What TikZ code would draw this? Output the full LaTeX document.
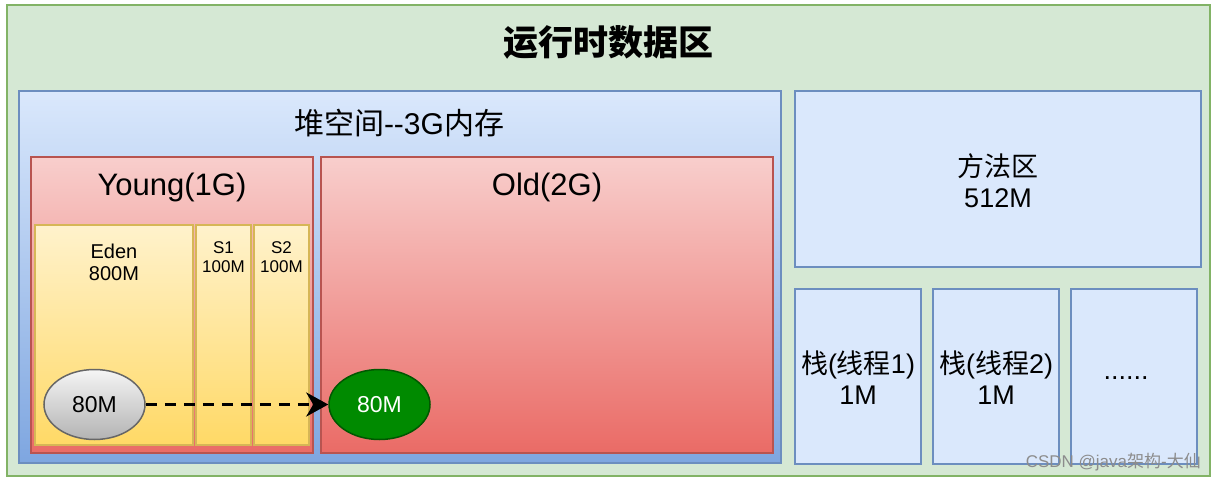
\documentclass[tikz,border=0pt]{standalone}
\usepackage{fontspec}
\setmainfont{Liberation Sans}
\newfontfamily\cjk{Noto Sans CJK SC}
\usetikzlibrary{arrows.meta,shapes.geometric}
\definecolor{gfill}{HTML}{D5E8D4}
\definecolor{gdraw}{HTML}{82B366}
\definecolor{btop}{HTML}{DAE8FC}
\definecolor{bbot}{HTML}{7EA6E0}
\definecolor{bdraw}{HTML}{6C8EBF}
\definecolor{rtop}{HTML}{F8CECC}
\definecolor{rbot}{HTML}{EA6B66}
\definecolor{rdraw}{HTML}{B85450}
\definecolor{ytop}{HTML}{FFF2CC}
\definecolor{ybot}{HTML}{FFD966}
\definecolor{ydraw}{HTML}{D6B656}
\definecolor{stop}{HTML}{F5F5F5}
\definecolor{sbot}{HTML}{B3B3B3}
\definecolor{sdraw}{HTML}{666666}
\definecolor{grfill}{HTML}{008A00}
\definecolor{grdraw}{HTML}{005700}
\tikzset{
  box/.style={rectangle, inner sep=0pt, outer sep=0pt, anchor=north west, line width=1.5pt},
  outerbox/.style={box, fill=gfill, draw=gdraw, line width=2pt},
  heapbox/.style={box, top color=btop, bottom color=bbot, draw=bdraw},
  redbox/.style={box, top color=rtop, bottom color=rbot, draw=rdraw},
  yelbox/.style={box, top color=ytop, bottom color=ybot, draw=ydraw},
  bluebox/.style={box, fill=btop, draw=bdraw},
  txt/.style={inner sep=0pt, align=center},
  obj/.style={ellipse, inner sep=0pt, minimum width=101pt, minimum height=70pt, line width=1.5pt},
}
\begin{document}
\begin{tikzpicture}[x=1pt,y=-1pt]
\useasboundingbox[fill=white] (0,0) rectangle (1216,482);
% outer
\node[outerbox, minimum width=1203pt, minimum height=471pt] (outer) at (7,5) {};
\node[txt, font=\fontsize{35}{40}\selectfont\cjk\bfseries] (title) at (608,42) {运行时数据区};
% heap
\node[heapbox, minimum width=762pt, minimum height=372pt] (heap) at (19,91) {};
\node[txt, font=\fontsize{30}{34}\selectfont] (heaplbl) at (399,123) {{\cjk 堆空间}-{}-3G{\cjk 内存}};
% young / old
\node[redbox, minimum width=282pt, minimum height=296pt] (young) at (31,157) {};
\node[txt, font=\fontsize{31}{34}\selectfont] (younglbl) at (172,187) {Young(1G)};
\node[redbox, minimum width=452pt, minimum height=296pt] (old) at (321,157) {};
\node[txt, font=\fontsize{31}{34}\selectfont] (oldlbl) at (547,187) {Old(2G)};
% eden, s1, s2
\node[yelbox, minimum width=158pt, minimum height=220pt] (eden) at (35,225) {};
\node[txt, font=\fontsize{20}{22}\selectfont] (edenlbl) at (114,262) {Eden\\800M};
\node[yelbox, minimum width=55pt, minimum height=220pt] (s1) at (196,225) {};
\node[txt, font=\fontsize{17}{19}\selectfont] (s1lbl) at (223.5,257) {S1\\100M};
\node[yelbox, minimum width=55pt, minimum height=220pt] (s2) at (254,225) {};
\node[txt, font=\fontsize{17}{19}\selectfont] (s2lbl) at (281.5,257) {S2\\100M};
% objects
\node[obj, top color=stop, bottom color=sbot, draw=sdraw, font=\fontsize{23}{26}\selectfont] (obj1) at (94.5,404.5) {80M};
\node[obj, fill=grfill, draw=grdraw, text=white, font=\fontsize{23}{26}\selectfont] (obj2) at (379.5,404.5) {80M};
\draw[line width=3.5pt, dash pattern=on 11pt off 8pt, -{Stealth[length=22pt,width=24pt,inset=7pt]}] (obj1.east) -- (obj2.west);
% method area and stacks
\node[bluebox, minimum width=406pt, minimum height=176pt] (method) at (795,91) {};
\node[txt, font=\fontsize{27}{31}\selectfont] (methodlbl) at (998,181) {{\cjk 方法区}\\512M};
\node[bluebox, minimum width=126pt, minimum height=175pt] (st1) at (795,289) {};
\node[txt, font=\fontsize{27}{31}\selectfont] (st1lbl) at (858,378) {{\cjk 栈}({\cjk 线程}1)\\1M};
\node[bluebox, minimum width=126pt, minimum height=175pt] (st2) at (933,289) {};
\node[txt, font=\fontsize{27}{31}\selectfont] (st2lbl) at (996,378) {{\cjk 栈}({\cjk 线程}2)\\1M};
\node[bluebox, minimum width=126pt, minimum height=175pt] (st3) at (1071,289) {};
\node[txt, font=\fontsize{27}{31}\selectfont] (st3lbl) at (1126,378) {......};
% watermark
\node[txt, anchor=east, text=black!45, font=\fontsize{17}{19}\selectfont] (wm) at (1201,462) {CSDN @java{\cjk 架构}-{\cjk 大仙}};
\end{tikzpicture}
\end{document}
